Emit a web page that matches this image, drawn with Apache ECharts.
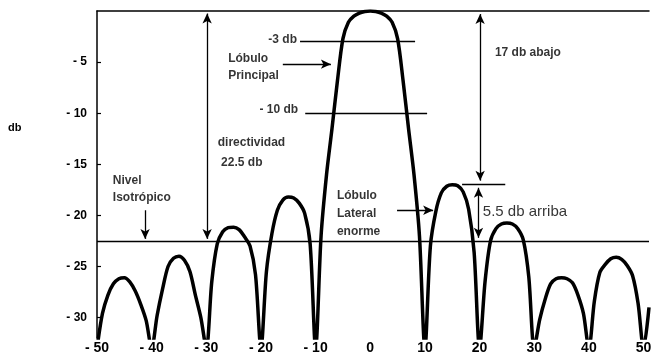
<!DOCTYPE html>
<html>
<head>
<meta charset="utf-8">
<script src="https://cdn.jsdelivr.net/npm/echarts@6.0.0/dist/echarts.min.js"></script>
<style>
html, body { margin: 0; padding: 0; background: #fff; }
#chart { width: 655px; height: 355px; }
</style>
</head>
<body>
<div id="chart"></div>
<script>
// angulo (grados) y nivel del patron (db)
var angles = [
    -50, -49, -48, -47, -46, -45, -44, -43, -42, -41,
    -40, -39, -38, -37, -36, -35, -34, -33, -32, -31,
    -30, -29, -28, -27, -26, -25, -24, -23, -22, -21,
    -20, -19, -18, -17, -16, -15, -14, -13, -12, -11,
    -10, -9, -8, -7, -6, -5, -4, -3, -2, -1,
    0, 1, 2, 3, 4, 5, 6, 7, 8, 9,
    10, 11, 12, 13, 14, 15, 16, 17, 18, 19,
    20, 21, 22, 23, 24, 25, 26, 27, 28, 29,
    30, 31, 32, 33, 34, 35, 36, 37, 38, 39,
    40, 41, 42, 43, 44, 45, 46, 47, 48, 49,
    50, 51
];
var gainDb = [
    -33, -29.6, -27.8, -26.7, -26.2, -26.1, -26.5, -27.4, -28.7, -30.3,
    -33, -29.8, -27.2, -25.0, -24.2, -24.0, -24.4, -25.5, -27.8, -30.0,
    -33, -26.5, -22.8, -21.6, -21.2, -21.15, -21.4, -22.1, -23.0, -25.8,
    -33, -25.5, -21.8, -19.5, -18.5, -18.2, -18.3, -18.8, -19.8, -22.8,
    -33, -22, -16, -11.5, -6.8, -2.7, -1.1, -0.5, -0.2, -0.05,
    0, -0.05, -0.2, -0.5, -1.1, -2.7, -6.8, -11.5, -16, -22,
    -33, -23.0, -19.6, -17.8, -17.15, -17.0, -17.1, -17.7, -19.4, -23.6,
    -33, -26.5, -22.5, -21.3, -20.85, -20.75, -20.85, -21.3, -22.4, -26.0,
    -33, -30.2, -28.2, -26.7, -26.2, -26.1, -26.2, -26.6, -27.8, -29.6,
    -33, -28.4, -25.6, -24.8, -24.25, -24.1, -24.3, -24.9, -25.9, -28.6,
    -33, -29.0
];
var xTicks = [-50, -40, -30, -20, -10, 0, 10, 20, 30, 40, 50];
var yTicks = [-30, -25, -20, -15, -10, -5];
var isotropicLevel = -22.5;

var points = angles.map(function(a, i) { return [a, gainDb[i]]; });

var boldFont = 'Liberation Sans, Arial, sans-serif';
var narrowFont = 'Liberation Sans Narrow, Liberation Sans, Arial, sans-serif';

function seg(x1, y1, x2, y2, s1, s2) {
    return [
        { coord: [x1, y1], symbol: s1 || 'none' },
        { coord: [x2, y2], symbol: s2 || 'none' }
    ];
}

// lineas de referencia y flechas, en coordenadas del grafico
var guides = [
    seg(-12.85, -3, 8.2, -3),
    seg(-11.9, -10, 10.4, -10),
    seg(16.8, -17, 24.7, -17),
    seg(-50, isotropicLevel, 51, isotropicLevel),
    seg(-16, -5.2, -7.2, -5.2, 'none', 'arrow'),
    seg(-29.85, -0.25, -29.85, -22.3, 'arrow', 'arrow'),
    seg(-41.2, -19.5, -41.2, -22.3, 'none', 'arrow'),
    seg(20.1, -0.3, 20.1, -16.6, 'arrow', 'arrow'),
    seg(19.8, -17.3, 19.8, -22.2, 'arrow', 'arrow'),
    seg(4.9, -19.5, 11.5, -19.5, 'none', 'arrow')
];

function note(x, y, text, side, extra) {
    var label = {
        show: true,
        position: side,
        distance: 0,
        formatter: text,
        color: '#000',
        fontFamily: boldFont,
        fontWeight: 'bold',
        fontSize: 12,
        lineHeight: 17
    };
    for (var k in extra) label[k] = extra[k];
    return { value: [x, y], label: label };
}

var notes = [
    note(-13.4, -2.85, '-3 db', 'left'),
    note(-26.0, -5.45, 'Lóbulo\nPrincipal', 'right'),
    note(-13.2, -9.7, '- 10 db', 'left'),
    note(-27.9, -13.9, 'directividad\n 22.5 db', 'right', { lineHeight: 20 }),
    note(-47.1, -17.4, 'Nivel\nIsotrópico', 'right'),
    note(22.8, -4.1, '17 db abajo', 'right', { fontFamily: narrowFont }),
    note(-6.1, -19.8, 'Lóbulo\nLateral\nenorme', 'right', { lineHeight: 18 }),
    note(20.6, -19.7, '5.5 db arriba', 'right', { fontFamily: narrowFont, fontWeight: 'normal', fontSize: 15 })
];

var chart = echarts.init(document.getElementById('chart'));
var option = {
    animation: false,
    backgroundColor: '#fff',
    grid: { left: 97, right: 6, top: 11, bottom: 17, outerBoundsMode: 'none' },
    graphic: [{
        type: 'text',
        left: 8,
        top: 122,
        style: { text: 'db', font: 'bold 11px Liberation Sans, Arial, sans-serif', fill: '#000' }
    }],
    xAxis: [{
        type: 'value',
        min: -50,
        max: 51,
        position: 'bottom',
        axisLine: { show: false },
        axisTick: { show: false },
        splitLine: { show: false },
        axisLabel: {
            customValues: xTicks,
            margin: 3,
            color: '#000',
            fontFamily: boldFont,
            fontWeight: 'bold',
            fontSize: 14,
            formatter: function(v) { return v < 0 ? '- ' + (-v) : String(v); }
        }
    }, {
        type: 'value',
        min: -50,
        max: 51,
        position: 'top',
        axisLine: { show: true, onZero: false, lineStyle: { color: '#000', width: 1.5 } },
        axisTick: { show: false },
        axisLabel: { show: false },
        splitLine: { show: false }
    }],
    yAxis: {
        type: 'value',
        min: -32,
        max: 0,
        axisLine: { show: true, onZero: false, lineStyle: { color: '#000', width: 1.5 } },
        axisTick: { show: true, inside: true, length: 4, customValues: yTicks, lineStyle: { color: '#000', width: 1.2 } },
        splitLine: { show: false },
        axisLabel: {
            customValues: yTicks,
            margin: 10,
            color: '#000',
            fontFamily: boldFont,
            fontWeight: 'bold',
            fontSize: 12,
            formatter: function(v) { return '- ' + Math.abs(v); }
        }
    },
    series: [{
        type: 'line',
        data: points,
        showSymbol: false,
        smooth: 0.3,
        lineStyle: { color: '#000', width: 3.5 },
        markLine: {
            silent: true,
            symbol: 'none',
            symbolSize: [7, 10],
            label: { show: false },
            lineStyle: { color: '#000', width: 1.3, type: 'solid' },
            itemStyle: { color: '#000' },
            emphasis: { disabled: true },
            data: guides
        }
    }, {
        type: 'scatter',
        data: notes,
        symbolSize: 0,
        silent: true
    }]
};
chart.setOption(option);
</script>
</body>
</html>
